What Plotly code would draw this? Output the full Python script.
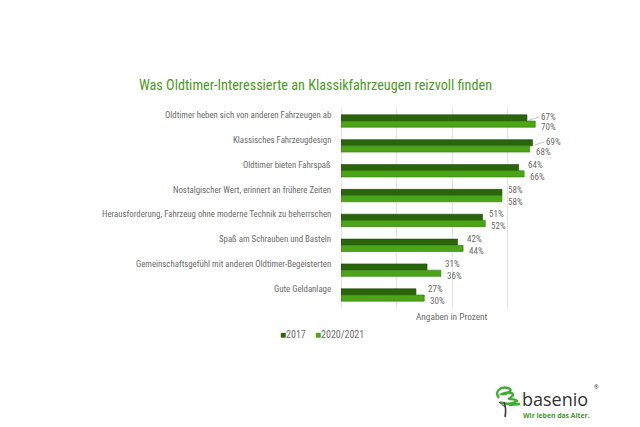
import plotly.graph_objects as go

categories = [
    "Oldtimer heben sich von anderen Fahrzeugen ab",
    "Klassisches Fahrzeugdesign",
    "Oldtimer bieten Fahrspaß",
    "Nostalgischer Wert, erinnert an frühere Zeiten",
    "Herausforderung, Fahrzeug ohne moderne Technik zu beherrschen",
    "Spaß am Schrauben und Basteln",
    "Gemeinschaftsgefühl mit anderen Oldtimer-Begeisterten",
    "Gute Geldanlage",
]
values_2017 = [67, 69, 64, 58, 51, 42, 31, 27]
values_2021 = [70, 68, 66, 58, 52, 44, 36, 30]
series_names = ["2017", "2020/2021"]

title_text = "Was Oldtimer-Interessierte an Klassikfahrzeugen reizvoll finden"
axis_title = "Angaben in Prozent"

C_DARK = "#2b650b"
C_LIGHT = "#4ca516"
TXT = "#6b6b6b"
FONT = "Liberation Sans Narrow, Roboto Condensed, Roboto, sans-serif"

W, H = 640, 427
L, R, T, B = 341, 77, 108, 119
PW, PH = W - L - R, H - T - B


def px(x):
    return (x - L) / PW


def py(y):
    return (H - B - y) / PH


fig = go.Figure()
fig.add_trace(go.Bar(y=categories, x=values_2017, name=series_names[0], orientation="h",
                     marker=dict(color=C_DARK, line=dict(color="#1c4705", width=0.6)),
                     showlegend=False))
fig.add_trace(go.Bar(y=categories, x=values_2021, name=series_names[1], orientation="h",
                     marker=dict(color=C_LIGHT, line=dict(color="#2f7a0a", width=0.6)),
                     showlegend=False))

LBL = dict(family=FONT, size=9, color=TXT)
ann = []
# category labels (slightly above group centre)
for c in categories:
    ann.append(dict(x=0, y=c, xref="x", yref="y", text=c, showarrow=False,
                    xanchor="right", xshift=-8, yshift=6, font=dict(family=FONT, size=8.8, color=TXT)))
# value labels
for c, a, b in zip(categories, values_2017, values_2021):
    if a > 65:
        ann.append(dict(x=a, y=c, text=f"{a}%", showarrow=True, arrowhead=0,
                        arrowwidth=0.7, arrowcolor="#aaaaaa", ax=12, ay=-4,
                        xanchor="left", standoff=2, font=LBL))
    else:
        ann.append(dict(x=max(a, b) if b > a else a, y=c, text=f"{a}%", showarrow=False,
                        xanchor="left", xshift=2 if b > a else 4, yshift=6, font=LBL))
    ann.append(dict(x=b, y=c, text=f"{b}%", showarrow=False, xanchor="left",
                    xshift=4, yshift=-6, font=LBL))

# axis title
ann.append(dict(x=0.5, y=py(316), xref="paper", yref="paper", text=axis_title,
                showarrow=False, xanchor="center", yanchor="middle",
                font=dict(family=FONT, size=9.3, color=TXT)))
# legend
ann.append(dict(x=px(322), y=py(334), xref="paper", yref="paper",
                text=(f"<span style='color:{C_DARK}'>■</span>{series_names[0]}&nbsp;&nbsp;&nbsp;&nbsp;"
                      f"<span style='color:{C_LIGHT}'>■</span>{series_names[1]}"),
                showarrow=False, xanchor="center", yanchor="middle",
                font=dict(family=FONT, size=10, color=TXT)))
# title
ann.append(dict(x=px(315.5), y=py(85), xref="paper", yref="paper", text=title_text,
                showarrow=False, xanchor="center", yanchor="middle",
                font=dict(family=FONT, size=14.2, color="#4a9b22")))
# logo text
ann.append(dict(x=px(521), y=py(398.5), xref="paper", yref="paper", text="basenio",
                showarrow=False, xanchor="left", yanchor="middle", borderpad=0,
                font=dict(family="Open Sans, sans-serif", size=18, color="#333333")))
ann.append(dict(x=px(593), y=py(387), xref="paper", yref="paper", text="®",
                showarrow=False, xanchor="left", yanchor="middle", borderpad=0,
                font=dict(family="Open Sans, sans-serif", size=5.5, color="#333333")))
ann.append(dict(x=px(522), y=py(415), xref="paper", yref="paper", text="<b>Wir leben das Alter.</b>",
                showarrow=False, xanchor="left", yanchor="middle", borderpad=0,
                font=dict(family="Open Sans, sans-serif", size=6.8, color="#3c9a2a")))

shapes = []
# logo icon: green swirl and trunk
swirl = (f"M {px(499)},{py(398)} C {px(494)},{py(392)} {px(500)},{py(386)} {px(508)},{py(388)} "
         f"C {px(515)},{py(390)} {px(506)},{py(395)} {px(502)},{py(394)} "
         f"C {px(508)},{py(391)} {px(518)},{py(393)} {px(510)},{py(398)} "
         f"C {px(506)},{py(400)} {px(515)},{py(398)} {px(517)},{py(401)} "
         f"C {px(513)},{py(404)} {px(506)},{py(405)} {px(500)},{py(402)} "
         f"M {px(509)},{py(405)} L {px(520)},{py(404)}")
shapes.append(dict(type="path", xref="paper", yref="paper", path=swirl,
                   line=dict(color="#3fae2e", width=2.4)))
trunk = (f"M {px(504)},{py(402)} C {px(506)},{py(407)} {px(506)},{py(412)} {px(505)},{py(417)}")
shapes.append(dict(type="path", xref="paper", yref="paper", path=trunk,
                   line=dict(color="#3a3a3a", width=1.6)))
shapes.append(dict(type="line", xref="paper", yref="paper", x0=px(505), y0=py(407),
                   x1=px(499), y1=py(402), line=dict(color="#3a3a3a", width=1)))

fig.update_layout(
    width=W, height=H,
    margin=dict(l=L, r=R, t=T, b=B, pad=0),
    paper_bgcolor="white", plot_bgcolor="white",
    barmode="group", bargap=0.5, bargroupgap=0,
    xaxis=dict(range=[0, 80], dtick=20, showticklabels=False, showgrid=True,
               gridcolor="#e3e3e3", gridwidth=1, zeroline=True, zerolinecolor="#e3e3e3",
               zerolinewidth=1, fixedrange=True),
    yaxis=dict(categoryorder="array", categoryarray=categories, autorange="reversed",
               showticklabels=False, showgrid=False, zeroline=False),
    annotations=ann, shapes=shapes, showlegend=False,
    font=dict(family=FONT),
)

fig.write_html("out.html")
